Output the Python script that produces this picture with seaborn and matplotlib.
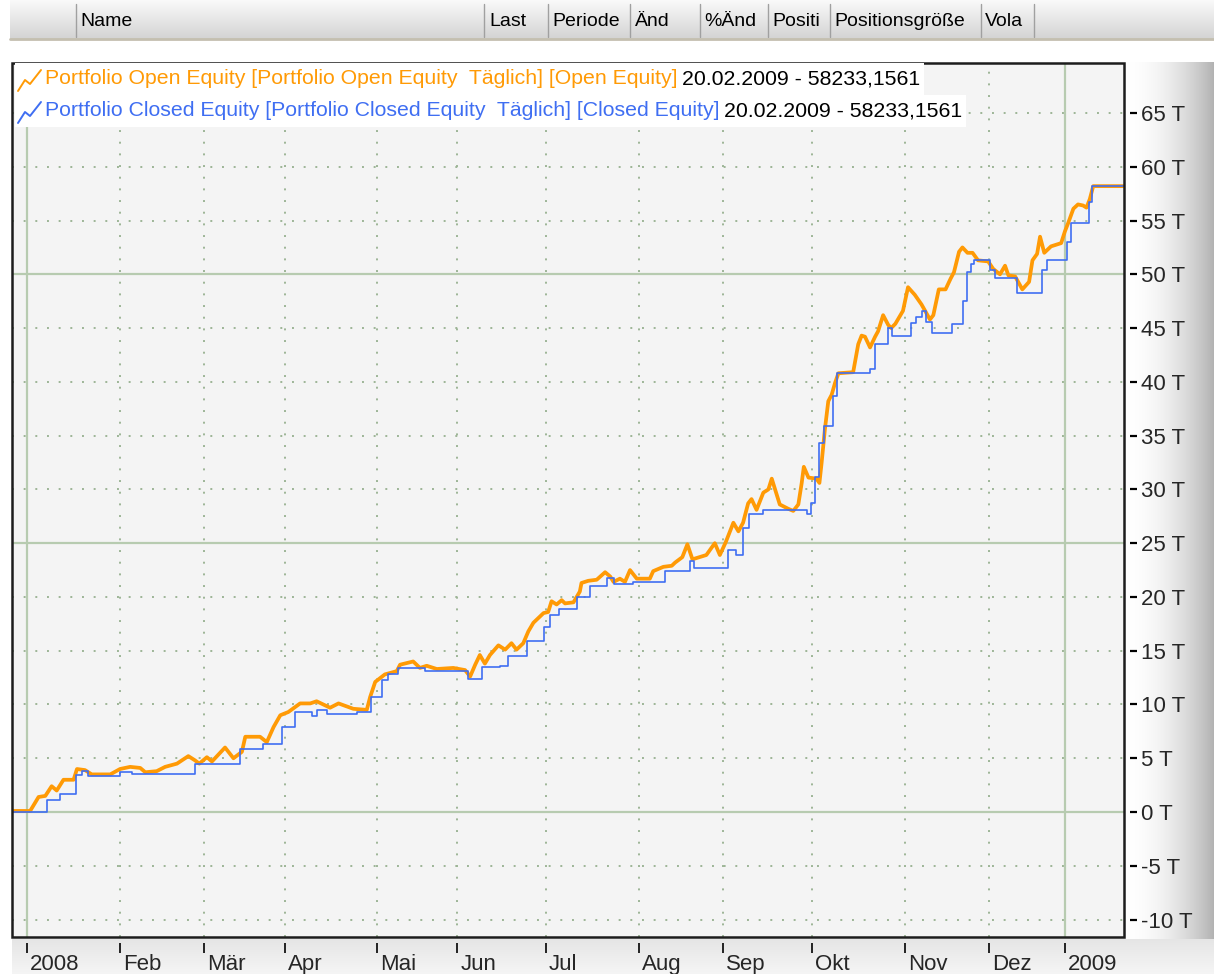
import numpy as np
import matplotlib
matplotlib.use('Agg')
import matplotlib.pyplot as plt
import seaborn as sns
from matplotlib.lines import Line2D
from matplotlib.patches import Rectangle
from matplotlib.transforms import ScaledTranslation

# --- datos (x = dia de negociacion desde 01.01.2008, y = miles) ---
month_labels = ['2008', 'Feb', 'Mär', 'Apr', 'Mai', 'Jun', 'Jul', 'Aug', 'Sep', 'Okt', 'Nov', 'Dez', '2009']
month_days = [22, 20, 19, 22, 19, 21, 22, 20, 21, 22, 20, 18]
y_ticks = list(range(-10, 70, 5))

open_day = [-3.6, 0.7, 2.7, 4.3, 5.8, 7.0, 8.6, 11.0, 11.8, 13.7, 15.3, 19.7, 22.0, 24.4, 26.8, 28.0,
            30.7, 32.7, 35.5, 38.2, 39.8, 40.8, 42.6, 43.8, 46.9, 48.9, 50.9, 51.7, 55.2, 56.8, 58.4,
            60.0, 61.9, 64.7, 67.1, 68.6, 71.8, 73.8, 77.3, 80.5, 81.3, 82.5, 84.8, 87.6, 88.4, 91.5,
            93.1, 94.7, 97.1, 101.0, 103.8, 105.0, 106.2, 107.3, 108.5, 109.7, 111.7, 113.3, 114.8,
            116.0, 117.6, 118.8, 120.0, 122.4, 123.5, 124.3, 125.5, 126.7, 127.5, 129.5, 131.0, 131.4,
            133.0, 135.0, 137.0, 138.2, 139.0, 140.5, 141.7, 142.9, 144.5, 147.6, 148.4, 150.8, 152.8,
            153.6, 155.3, 156.5, 157.7, 161.0, 163.0, 164.2, 165.6, 167.4, 168.6, 169.7, 170.9, 171.7,
            172.9, 174.5, 175.7, 176.5, 177.3, 178.4, 180.4, 181.6, 182.8, 183.6, 184.1, 185.2, 187.1,
            187.8, 188.3, 189.1, 189.9, 190.7, 191.5, 192.3, 195.8, 197.0, 197.8, 198.6, 199.8, 201.0,
            201.7, 202.9, 204.1, 204.8, 205.8, 207.6, 208.8, 210.4, 212.0, 214.0, 214.8, 216.1, 217.7,
            218.9, 219.7, 220.9, 221.7, 222.9, 224.1, 225.4, 227.8, 229.0, 230.6, 231.8, 232.6, 234.2,
            235.9, 237.5, 238.3, 239.4, 240.1, 241.1, 242.7, 245.1, 246.0, 246.8, 248.0, 249.1, 250.3,
            251.1, 251.9, 252.7, 259.8]
open_val = [0.1, 0.1, 1.4, 1.5, 2.4, 2.0, 3.0, 3.0, 4.0, 3.9, 3.5, 3.5, 4.0, 4.2, 4.1, 3.7,
            3.8, 4.2, 4.5, 5.2, 4.8, 4.5, 5.1, 4.7, 6.0, 5.0, 5.6, 7.0, 7.0, 6.5, 7.9,
            9.0, 9.3, 10.1, 10.1, 10.3, 9.7, 10.1, 9.6, 9.5, 10.7, 12.1, 12.8, 13.1, 13.7, 14.0,
            13.4, 13.6, 13.3, 13.4, 13.2, 12.6, 13.7, 14.6, 13.8, 14.6, 15.5, 15.1, 15.7,
            15.1, 15.7, 16.8, 17.6, 18.5, 18.6, 19.6, 19.3, 19.7, 19.4, 19.5, 20.5, 21.3,
            21.5, 21.6, 22.3, 21.9, 21.4, 21.7, 21.4, 22.5, 21.7, 21.7, 22.4, 22.8, 22.9,
            23.2, 23.7, 24.9, 23.5, 23.9, 25.0, 23.9, 25.1, 26.9, 26.1, 26.9, 28.7, 29.1,
            28.1, 29.7, 30.0, 31.0, 30.0, 28.6, 28.2, 28.0, 28.6, 30.6, 32.1, 31.1, 31.0,
            30.6, 32.4, 35.6, 38.2, 38.8, 39.9, 40.8, 40.9, 43.5, 44.3, 44.2, 43.2, 44.2,
            44.7, 46.2, 45.3, 45.0, 45.4, 46.6, 48.8, 48.1, 47.2, 45.8, 46.2, 48.6, 48.6,
            49.6, 50.2, 52.1, 52.5, 52.0, 52.0, 51.3, 51.2, 50.5, 50.0, 50.8, 49.9, 49.8,
            48.6, 49.3, 51.3, 51.9, 53.5, 52.0, 52.6, 52.9, 54.0, 54.8, 56.1, 56.5, 56.4,
            56.2, 57.0, 58.2, 58.2]

closed_day = [-3.6, 4.7, 7.8, 11.6, 13.0, 14.5, 22.0, 24.8, 39.8, 50.5, 56.0, 60.4, 63.5, 67.5,
              68.8, 71.0, 78.1, 81.5, 84.0, 85.5, 88.0, 94.3, 104.4, 107.7, 112.1, 114.0, 118.4,
              122.4, 124.0, 126.0, 130.3, 133.4, 137.4, 139.0, 143.7, 151.2, 157.1, 158.0, 166.2,
              168.0, 169.7, 171.0, 174.5, 184.8, 185.8, 186.8, 187.8, 188.8, 191.1, 192.0, 199.8,
              201.0, 204.1, 205.0, 209.6, 210.8, 212.0, 213.0, 214.4, 219.3, 221.9, 222.9, 223.8,
              224.5, 228.2, 229.5, 234.6, 240.5, 241.8, 246.6, 247.4, 251.7, 252.5, 259.8]
closed_val = [0.0, 1.1, 1.7, 3.4, 3.8, 3.35, 3.7, 3.5, 4.5, 5.9, 6.3, 7.9, 9.3, 8.9,
              9.5, 9.1, 9.3, 10.7, 12.3, 12.8, 13.4, 13.1, 12.4, 13.5, 13.6, 14.5, 15.9,
              17.2, 18.3, 18.9, 20.0, 21.0, 21.8, 21.2, 21.4, 22.4, 23.3, 22.7, 24.4,
              23.9, 26.4, 27.7, 28.1, 27.7, 28.7, 31.2, 34.3, 35.9, 38.7, 40.8, 41.2,
              43.5, 45.0, 44.3, 45.5, 46.0, 46.6, 45.6, 44.5, 45.4, 47.5, 50.2, 51.0,
              51.3, 50.4, 49.7, 48.3, 50.4, 51.3, 53.0, 54.8, 56.7, 58.2, 58.2]

header_cols = ['Name', 'Last', 'Periode', 'Änd', '%Änd', 'Positi', 'Positionsgröße', 'Vola']
legend_names = ['Portfolio Open Equity [Portfolio Open Equity  Täglich] [Open Equity]',
                'Portfolio Closed Equity [Portfolio Closed Equity  Täglich] [Closed Equity]']
legend_values = ['20.02.2009 - 58233,1561', '20.02.2009 - 58233,1561']

# --- estilo ---
ORANGE = '#ff9a05'
BLUE = '#3f6ef2'
sns.set_style('white')
plt.rcParams['font.family'] = ['Liberation Sans', 'DejaVu Sans']

W, H = 1214, 974
def fx(x):
    return x / W
def fy(y):
    return 1 - y / H

fig = plt.figure(figsize=(12.14, 9.74), dpi=100, facecolor='white')

# fondos con degradado (cabecera, panel derecho, banda inferior)
hdr = fig.add_axes([fx(10), fy(39), 1 - fx(10), 39 / H], zorder=0)
ramp = np.linspace(0.98, 0.83, 50)[:, None, None] * np.ones((1, 10, 3))
hdr.imshow(ramp, aspect='auto', extent=(0, 1, 0, 1))
hdr.axis('off')

side = fig.add_axes([fx(1124), fy(940), (1214 - 1124) / W, (940 - 62) / H], zorder=0)
t = np.linspace(0, 1, 120)
side.imshow((1 - 0.30 * t ** 2)[None, :, None] * np.ones((10, 1, 3)), aspect='auto', extent=(0, 1, 0, 1))
side.axis('off')

bot = fig.add_axes([fx(12), fy(974), 1 - fx(12), (974 - 939) / H], zorder=0)
bot.imshow(np.linspace(0.90, 0.96, 30)[:, None, None] * np.ones((1, 10, 3)), aspect='auto', extent=(0, 1, 0, 1))
bot.axis('off')

# cabecera de columnas
col_x = [80, 489, 552, 635, 704, 772, 834, 985]
sep_x = [76, 484, 548, 630, 700, 768, 830, 981, 1034]
for name, x in zip(header_cols, col_x):
    fig.text(fx(x), fy(21), name, fontsize=14, va='center', ha='left', color='black')
for x in sep_x:
    fig.add_artist(Line2D([fx(x), fx(x)], [fy(4), fy(37)], color='#a0a0a0', lw=1))
fig.add_artist(Line2D([fx(10), 1], [fy(39), fy(39)], color='#c4bfb0', lw=2))

# grafico principal
ax = fig.add_axes([fx(12), fy(937), fx(1124) - fx(12), fy(63) - fy(937)], zorder=2)
ax.set_facecolor('#f4f4f4')

month_pos = np.concatenate([[0], np.cumsum(month_days)])

for v in y_ticks:
    if v in (0, 25, 50):
        ax.axhline(v, color='#b7cbb0', lw=1.6, zorder=1)
    else:
        ax.axhline(v, color='#9db596', lw=1.4, ls=(0, (1, 5)), zorder=1)
for p, lab in zip(month_pos, month_labels):
    if lab.isdigit():
        ax.axvline(p, color='#b7cbb0', lw=1.6, zorder=1)
    else:
        ax.axvline(p, color='#9db596', lw=1.4, ls=(0, (1, 5)), zorder=1)

sns.lineplot(x=open_day, y=open_val, color=ORANGE, lw=2.7, estimator=None, sort=False, ax=ax, zorder=3)
sns.lineplot(x=closed_day, y=closed_val, color=BLUE, lw=1.2, drawstyle='steps-post',
             estimator=None, sort=False, ax=ax, zorder=4)

ax.set_xlim(-3.6, 260)
ax.set_ylim(-11.62, 69.65)
ax.set_xlabel('')
ax.set_ylabel('')

for s in ['left', 'top']:
    ax.spines[s].set_visible(False)
for s in ['bottom', 'right']:
    ax.spines[s].set_position(('outward', 4.5))
    ax.spines[s].set_color('none')
ax.add_patch(Rectangle((0, 0), 1, 1, transform=ax.transAxes, fill=False, ec='#1c1c1c',
                       lw=1.8, zorder=10, clip_on=False))

ax.yaxis.tick_right()
ax.set_yticks(y_ticks)
ax.set_yticklabels([f'{v} T' for v in y_ticks])
ax.tick_params(axis='y', direction='out', length=5, width=1.6, color='black', pad=3,
               labelsize=16, right=True, left=False)

ax.set_xticks(month_pos)
ax.set_xticklabels(month_labels)
ax.tick_params(axis='x', direction='out', length=7, width=1.2, color='black', pad=1,
               labelsize=16, bottom=True, top=False)
shift = ScaledTranslation(0.03, 0, fig.dpi_scale_trans)
for lab in ax.get_xticklabels():
    lab.set_ha('left')
    lab.set_transform(lab.get_transform() + shift)

# leyenda
fig.canvas.draw()
renderer = fig.canvas.get_renderer()
for i, (name, val, c) in enumerate(zip(legend_names, legend_values, [ORANGE, BLUE])):
    yc = 79 + 32 * i
    t1 = fig.text(fx(45), fy(yc), name, color=c, fontsize=15.3, va='center', ha='left', zorder=6)
    x1 = t1.get_window_extent(renderer).x1
    t2 = fig.text(fx(x1 + 4), fy(yc), val, color='black', fontsize=15.3, va='center', ha='left', zorder=6)
    x2 = t2.get_window_extent(renderer).x1
    fig.add_artist(Rectangle((fx(15), fy(yc + 16)), fx(x2 + 4) - fx(15), 32 / H, fc='white',
                             ec='none', zorder=5))
    icon_x = [18, 25, 30, 41]
    icon_y = [yc + 12, yc + 1, yc + 5, yc - 9]
    fig.add_artist(Line2D([fx(x) for x in icon_x], [fy(y) for y in icon_y], color=c, lw=1.4, zorder=6))

fig.savefig('out.png', dpi=100, facecolor='white')
